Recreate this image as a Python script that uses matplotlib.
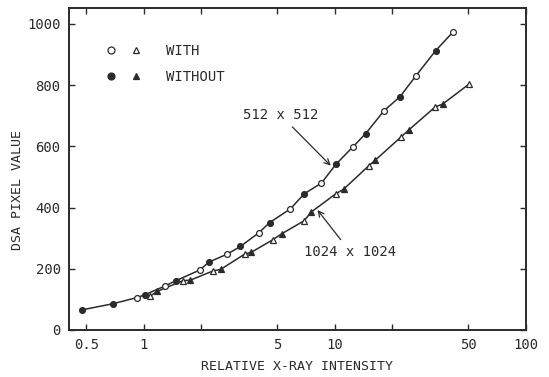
import numpy as np
import matplotlib
matplotlib.use("Agg")
import matplotlib.pyplot as plt
from matplotlib.lines import Line2D
from matplotlib.legend_handler import HandlerTuple
from matplotlib.ticker import FixedLocator, FixedFormatter, NullLocator

plt.rcParams['font.family'] = ['DejaVu Sans Mono']

INK = '#2b2b2b'
FS = 9.5

# 512 x 512 matrix (circles)
x512_with = [0.92, 1.29, 1.96, 2.73, 4.0, 5.85, 8.5, 12.4, 18.1, 26.5, 41.4]
y512_with = [106, 144, 196, 248, 318, 396, 480, 598, 717, 830, 973]
x512_without = [0.476, 0.69, 1.01, 1.47, 2.19, 3.2, 4.55, 6.9, 10.1, 14.5, 21.9, 33.7]
y512_without = [66, 86, 115, 161, 222, 273, 351, 445, 541, 642, 762, 913]

# 1024 x 1024 matrix (triangles)
x1024_with = [1.075, 1.6, 2.3, 3.37, 4.73, 6.9, 10.1, 15.0, 22.2, 33.5, 50.5]
y1024_with = [110, 161, 193, 248, 295, 357, 445, 536, 631, 729, 804]
x1024_without = [1.17, 1.75, 2.52, 3.65, 5.25, 7.5, 11.1, 16.2, 24.5, 36.6]
y1024_without = [126, 163, 198, 254, 314, 385, 460, 554, 655, 738]

x_ticks = [0.5, 1, 2, 5, 10, 20, 50, 100]
x_ticklabels = ['0.5', '1', '', '5', '10', '', '50', '100']
y_ticks = [0, 200, 400, 600, 800, 1000]


def curve(xa, ya, xb, yb):
    xs = np.concatenate([xa, xb])
    ys = np.concatenate([ya, yb])
    order = np.argsort(xs)
    return xs[order], ys[order]


fig = plt.figure(figsize=(5.49, 3.77), dpi=100)
ax = fig.add_axes([0.1257, 0.1247, 0.8323, 0.854])
ax.set_xscale('log')

for xa, ya, xb, yb in [(x512_with, y512_with, x512_without, y512_without),
                       (x1024_with, y1024_with, x1024_without, y1024_without)]:
    cx, cy = curve(xa, ya, xb, yb)
    ax.plot(cx, cy, color=INK, lw=1.1, zorder=2)

mk = dict(ms=4.2, mew=0.9, mec=INK, lw=0, zorder=3)
ax.plot(x512_with, y512_with, 'o', mfc='white', **mk)
ax.plot(x512_without, y512_without, 'o', mfc=INK, **mk)
ax.plot(x1024_with, y1024_with, '^', mfc='white', **mk)
ax.plot(x1024_without, y1024_without, '^', mfc=INK, **mk)

ax.set_xlim(0.405, 100)
ax.set_ylim(0, 1052)

ax.xaxis.set_major_locator(FixedLocator(x_ticks))
ax.xaxis.set_major_formatter(FixedFormatter(x_ticklabels))
ax.xaxis.set_minor_locator(NullLocator())
ax.set_yticks(y_ticks)
ax.tick_params(which='both', direction='in', top=True, right=True,
               length=4, width=1.0, colors=INK, labelsize=FS + 0.5, pad=6)
for s in ax.spines.values():
    s.set_linewidth(1.4)
    s.set_color(INK)

ax.set_xlabel('RELATIVE X-RAY INTENSITY', fontsize=FS, color=INK)
ax.set_ylabel('DSA PIXEL VALUE', fontsize=FS, color=INK)
ax.xaxis.set_label_coords(0.5, -0.093)
ax.yaxis.set_label_coords(-0.098, 0.435)

# legend: circle + triangle pairs
h_with = (Line2D([], [], marker='o', mfc='white', mec=INK, ms=5, mew=0.9, lw=0),
          Line2D([], [], marker='^', mfc='white', mec=INK, ms=5, mew=0.9, lw=0))
h_without = (Line2D([], [], marker='o', mfc=INK, mec=INK, ms=5, mew=0.9, lw=0),
             Line2D([], [], marker='^', mfc=INK, mec=INK, ms=5, mew=0.9, lw=0))
leg = ax.legend([h_with, h_without], ['WITH', 'WITHOUT'],
                handler_map={tuple: HandlerTuple(ndivide=None, pad=1.0)},
                loc='upper left', bbox_to_anchor=(0.067, 0.905), frameon=False,
                fontsize=FS + 0.5, handlelength=2.6, handletextpad=1.8,
                labelspacing=0.85, borderaxespad=0)
for t in leg.get_texts():
    t.set_color(INK)

arrow = dict(arrowstyle='->', color=INK, lw=0.9, shrinkA=2, shrinkB=0)
ax.annotate('512 x 512', xy=(9.5, 537), xytext=(5.2, 702),
            ha='center', va='center', fontsize=FS + 0.5, color=INK,
            arrowprops=arrow)
ax.annotate('1024 x 1024', xy=(8.1, 392), xytext=(12.0, 256),
            ha='center', va='center', fontsize=FS + 0.5, color=INK,
            arrowprops=arrow)

fig.savefig('out.png', dpi=100)
